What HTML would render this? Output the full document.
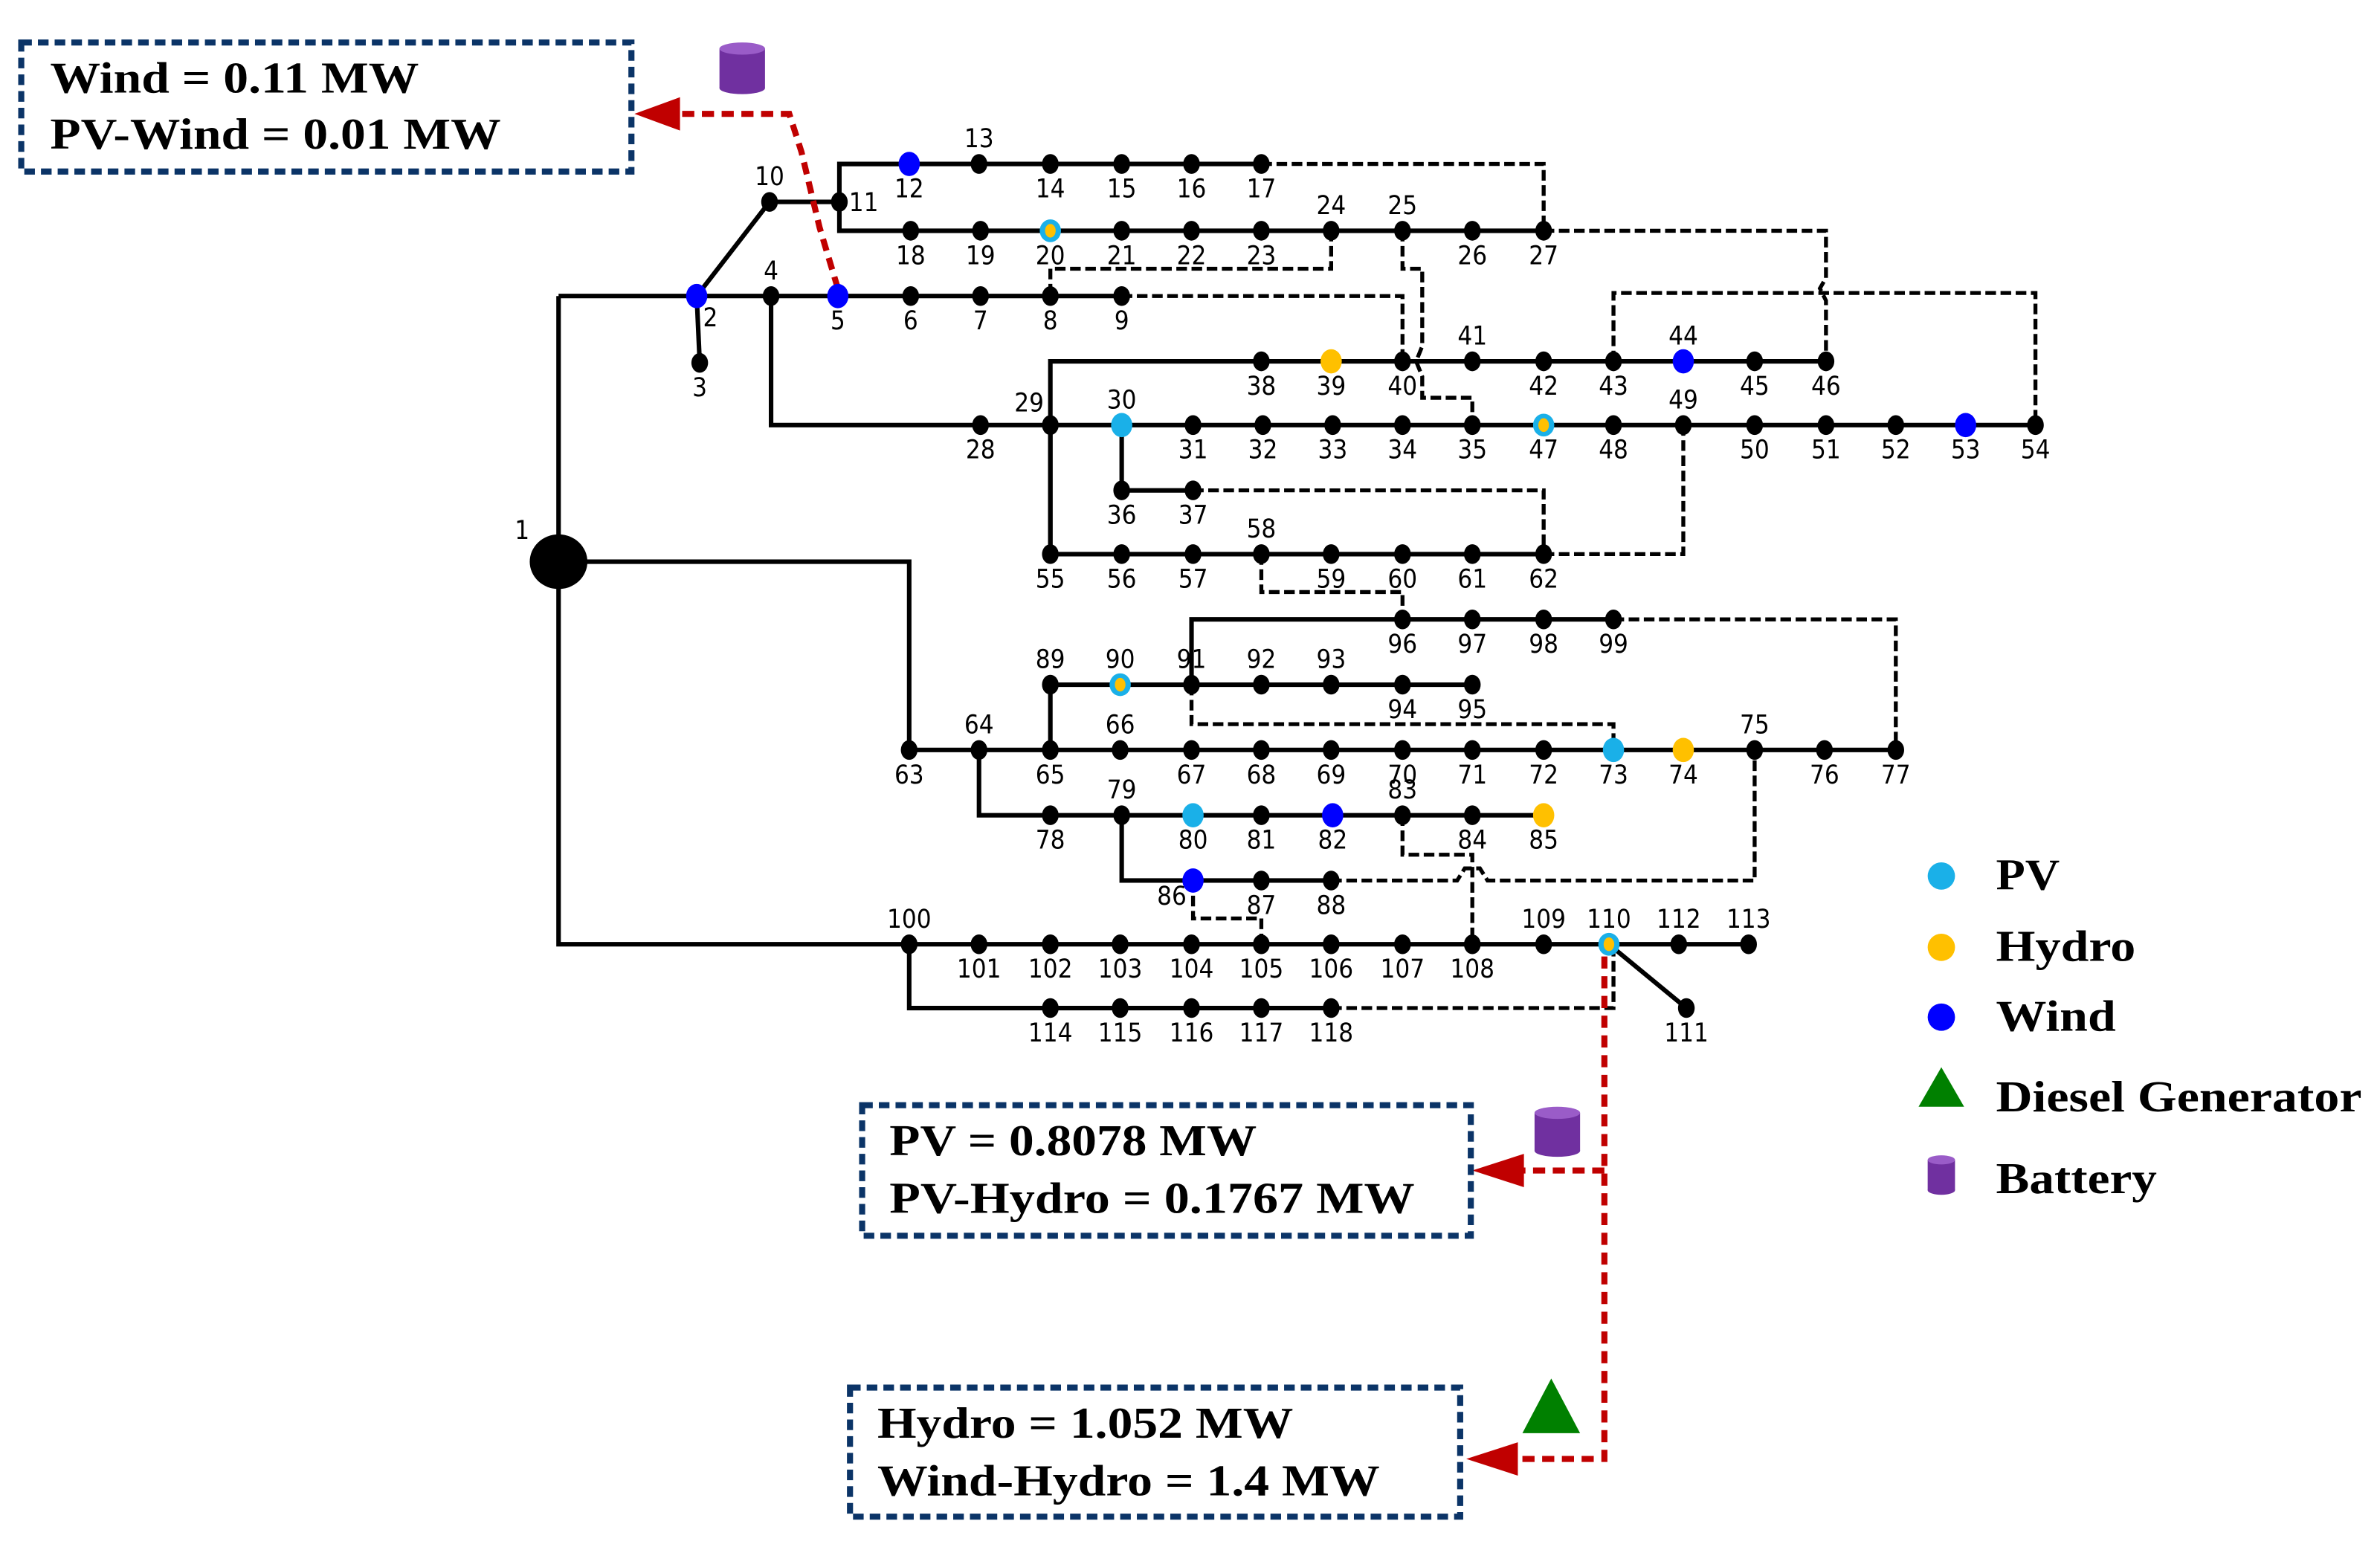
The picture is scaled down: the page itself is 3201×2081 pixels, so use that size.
<!DOCTYPE html>
<html><head><meta charset="utf-8"><style>
html,body{margin:0;padding:0;background:#fff;}
svg{display:block;}
.l{font-family:"DejaVu Sans Condensed","DejaVu Sans","Liberation Sans",sans-serif;font-size:17px;fill:#000;text-anchor:middle;}
.b{font-family:"Liberation Serif",serif;font-weight:bold;font-size:29px;fill:#000;}
</style></head><body>
<svg width="3201" height="2081" viewBox="0 0 1568 1019" preserveAspectRatio="none" xmlns="http://www.w3.org/2000/svg">
<g stroke="#000" stroke-width="3" fill="none">
<polyline points="368,195 739,195"/>
<polyline points="368,195 368,622 1152,622"/>
<polyline points="459,195 461,239"/>
<polyline points="459,195 507,133 553,133"/>
<polyline points="599,108 553,108 553,152 1017,152"/>
<polyline points="553,108 831,108"/>
<polyline points="508,195 508,280 1341,280"/>
<polyline points="692,365 692,238 1203,238"/>
<polyline points="692,280 692,365 1017,365"/>
<polyline points="739,280 739,323 786,323"/>
<polyline points="368,370 599,370 599,494 1249,494"/>
<polyline points="785,451 785,408 1063,408"/>
<polyline points="692,494 692,451 970,451"/>
<polyline points="645,494 645,537 1017,537"/>
<polyline points="739,537 739,580 877,580"/>
<polyline points="599,622 599,664 877,664"/>
<polyline points="1060,622 1111,664"/>
</g>
<g stroke="#000" stroke-width="2.6" fill="none" stroke-dasharray="7,3">
<polyline points="831,108 1017,108 1017,152"/>
<polyline points="1017,152 1203,152 1203,183 1199,190 1203,198 1203,238"/>
<polyline points="877,152 877,177 692,177 692,195"/>
<polyline points="739,195 924,195 924,238"/>
<polyline points="924,152 924,177 937,177 937,228 933,238 937,248 937,262 970,262 970,280"/>
<polyline points="1063,238 1063,193 1341,193 1341,280"/>
<polyline points="786,323 1017,323 1017,365"/>
<polyline points="1017,365 1109,365 1109,280"/>
<polyline points="831,365 831,390 924,390 924,408"/>
<polyline points="1063,408 1249,408 1249,494"/>
<polyline points="785,451 785,477 1063,477 1063,494"/>
<polyline points="924,537 924,563 970,563 970,622"/>
<polyline points="877,580 960,580 965,572 975,572 980,580 1156,580 1156,494"/>
<polyline points="786,580 786,605 831,605 831,622"/>
<polyline points="877,664 1063,664 1063,622"/>
</g>
<g stroke="#c00000" stroke-width="4" fill="none" stroke-dasharray="8,5">
<polyline points="552,190 540,150 528,100 520,75 440,75"/>
<polyline points="1057,630 1057,961 990,961"/>
<polyline points="1057,771 995,771"/>
</g>
<g fill="#c00000">
<polygon points="418,75 448,64 448,86"/>
<polygon points="970,771 1004,760 1004,782"/>
<polygon points="966,961 1000,950 1000,972"/>
</g>
<g stroke="#0b3467" stroke-width="4" fill="none" stroke-dasharray="7,4">
<rect x="14" y="28" width="402" height="85"/>
<rect x="568" y="728" width="401" height="86"/>
<rect x="560" y="914" width="402" height="85"/>
</g>
<text class="b" x="33" y="61" textLength="243" lengthAdjust="spacingAndGlyphs">Wind = 0.11 MW</text>
<text class="b" x="33" y="98" textLength="297" lengthAdjust="spacingAndGlyphs">PV-Wind = 0.01 MW</text>
<text class="b" x="586" y="761" textLength="242" lengthAdjust="spacingAndGlyphs">PV = 0.8078 MW</text>
<text class="b" x="586" y="799" textLength="346" lengthAdjust="spacingAndGlyphs">PV-Hydro = 0.1767 MW</text>
<text class="b" x="578" y="947" textLength="274" lengthAdjust="spacingAndGlyphs">Hydro = 1.052 MW</text>
<text class="b" x="578" y="985" textLength="331" lengthAdjust="spacingAndGlyphs">Wind-Hydro = 1.4 MW</text>
<g fill="#7030a0">
<rect x="474" y="32" width="30" height="26"/><ellipse cx="489" cy="58" rx="15" ry="4"/><ellipse cx="489" cy="32" rx="15" ry="4" fill="#9a5cc8"/>
<rect x="1011" y="733" width="30" height="25"/><ellipse cx="1026" cy="758" rx="15" ry="4"/><ellipse cx="1026" cy="733" rx="15" ry="4" fill="#9a5cc8"/>
<rect x="1270" y="764" width="18" height="20"/><ellipse cx="1279" cy="784" rx="9" ry="3"/><ellipse cx="1279" cy="764" rx="9" ry="3" fill="#9a5cc8"/>
</g>
<polygon points="1022,908 1003,944 1041,944" fill="#008000"/>
<ellipse cx="1279" cy="577" rx="9" ry="9" fill="#1ab0e8"/>
<ellipse cx="1279" cy="624" rx="9" ry="9" fill="#ffc000"/>
<ellipse cx="1279" cy="670" rx="9" ry="9" fill="#0000ff"/>
<polygon points="1279,703 1264,729 1294,729" fill="#008000"/>
<text class="b" x="1315" y="586" textLength="42" lengthAdjust="spacingAndGlyphs">PV</text>
<text class="b" x="1315" y="633" textLength="92" lengthAdjust="spacingAndGlyphs">Hydro</text>
<text class="b" x="1315" y="679" textLength="79" lengthAdjust="spacingAndGlyphs">Wind</text>
<text class="b" x="1315" y="732" textLength="241" lengthAdjust="spacingAndGlyphs">Diesel Generator</text>
<text class="b" x="1315" y="786" textLength="106" lengthAdjust="spacingAndGlyphs">Battery</text>
<ellipse cx="368" cy="370" rx="19" ry="18" fill="#000"/>
<text class="l" x="344" y="355">1</text>
<g id="nodes"></g>
</svg>
<script>
(function(){
var N=[
[2,459,195,'w','br'],[3,461,239,'k','b'],[4,508,195,'k','a'],[5,552,195,'w','b'],[6,600,195,'k','b'],[7,646,195,'k','b'],[8,692,195,'k','b'],[9,739,195,'k','b'],
[10,507,133,'k','a'],[11,553,133,'k','r'],
[12,599,108,'w','b'],[13,645,108,'k','a'],[14,692,108,'k','b'],[15,739,108,'k','b'],[16,785,108,'k','b'],[17,831,108,'k','b'],
[18,600,152,'k','b'],[19,646,152,'k','b'],[20,692,152,'ph','b'],[21,739,152,'k','b'],[22,785,152,'k','b'],[23,831,152,'k','b'],[24,877,152,'k','a'],[25,924,152,'k','a'],[26,970,152,'k','b'],[27,1017,152,'k','b'],
[38,831,238,'k','b'],[39,877,238,'h','b'],[40,924,238,'k','b'],[41,970,238,'k','a'],[42,1017,238,'k','b'],[43,1063,238,'k','b'],[44,1109,238,'w','a'],[45,1156,238,'k','b'],[46,1203,238,'k','b'],
[28,646,280,'k','b'],[29,692,280,'k','al'],[30,739,280,'p','a'],[31,786,280,'k','b'],[32,832,280,'k','b'],[33,878,280,'k','b'],[34,924,280,'k','b'],[35,970,280,'k','b'],[47,1017,280,'ph','b'],[48,1063,280,'k','b'],[49,1109,280,'k','a'],[50,1156,280,'k','b'],[51,1203,280,'k','b'],[52,1249,280,'k','b'],[53,1295,280,'w','b'],[54,1341,280,'k','b'],
[36,739,323,'k','b'],[37,786,323,'k','b'],
[55,692,365,'k','b'],[56,739,365,'k','b'],[57,786,365,'k','b'],[58,831,365,'k','a'],[59,877,365,'k','b'],[60,924,365,'k','b'],[61,970,365,'k','b'],[62,1017,365,'k','b'],
[96,924,408,'k','b'],[97,970,408,'k','b'],[98,1017,408,'k','b'],[99,1063,408,'k','b'],
[89,692,451,'k','a'],[90,738,451,'ph','a'],[91,785,451,'k','a'],[92,831,451,'k','a'],[93,877,451,'k','a'],[94,924,451,'k','b'],[95,970,451,'k','b'],
[63,599,494,'k','b'],[64,645,494,'k','a'],[65,692,494,'k','b'],[66,738,494,'k','a'],[67,785,494,'k','b'],[68,831,494,'k','b'],[69,877,494,'k','b'],[70,924,494,'k','b'],[71,970,494,'k','b'],[72,1017,494,'k','b'],[73,1063,494,'p','b'],[74,1109,494,'h','b'],[75,1156,494,'k','a'],[76,1202,494,'k','b'],[77,1249,494,'k','b'],
[78,692,537,'k','b'],[79,739,537,'k','a'],[80,786,537,'p','b'],[81,831,537,'k','b'],[82,878,537,'w','b'],[83,924,537,'k','a'],[84,970,537,'k','b'],[85,1017,537,'h','b'],
[86,786,580,'w','bl'],[87,831,580,'k','b'],[88,877,580,'k','b'],
[100,599,622,'k','a'],[101,645,622,'k','b'],[102,692,622,'k','b'],[103,738,622,'k','b'],[104,785,622,'k','b'],[105,831,622,'k','b'],[106,877,622,'k','b'],[107,924,622,'k','b'],[108,970,622,'k','b'],[109,1017,622,'k','a'],[110,1060,622,'ph','a'],[112,1106,622,'k','a'],[113,1152,622,'k','a'],
[111,1111,664,'k','b'],
[114,692,664,'k','b'],[115,738,664,'k','b'],[116,785,664,'k','b'],[117,831,664,'k','b'],[118,877,664,'k','b']
];
var g=document.getElementById('nodes'),s='';
var col={k:'#000',w:'#0000ff',p:'#1ab0e8',h:'#ffc000'};
N.forEach(function(n){
 var x=n[1],y=n[2],t=n[3],p=n[4];
 if(t==='ph'){s+='<ellipse cx="'+x+'" cy="'+y+'" rx="7" ry="7.5" fill="#1ab0e8"/><ellipse cx="'+x+'" cy="'+y+'" rx="3.5" ry="4.5" fill="#ffc000"/>';}
 else if(t==='k'){s+='<ellipse cx="'+x+'" cy="'+y+'" rx="5.5" ry="6.5" fill="#000"/>';}
 else {s+='<ellipse cx="'+x+'" cy="'+y+'" rx="7" ry="8" fill="'+col[t]+'"/>';}
 var lx=x,ly=y+22;
 if(p==='a'){ly=y-11;}
 if(p==='al'){lx=x-14;ly=y-9;}
 if(p==='br'){lx=x+9;ly=y+20;}
 if(p==='bl'){lx=x-14;ly=y+16;}
 if(p==='r'){lx=x+16;ly=y+6;}
 s+='<text class="l" x="'+lx+'" y="'+ly+'">'+n[0]+'</text>';
});
g.innerHTML=s;
})();
</script>
</body></html>
